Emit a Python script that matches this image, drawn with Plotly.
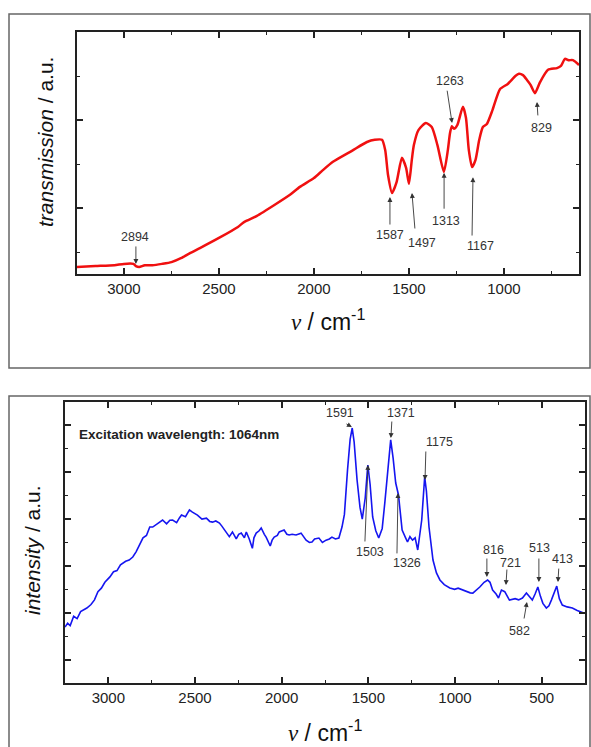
import plotly.graph_objects as go

# ---------------- data ----------------
ir_wavenumber = [3250, 3150, 3050, 3000, 2950, 2937, 2920, 2890, 2850, 2800, 2750, 2700, 2650, 2600,
                 2500, 2400, 2368, 2300, 2200, 2126, 2074, 2000, 1953, 1900, 1800, 1721, 1680, 1642,
                 1625, 1610, 1589, 1565, 1537, 1515, 1500, 1485, 1474, 1450, 1411, 1380, 1350, 1316,
                 1295, 1284, 1274, 1263, 1245, 1216, 1200, 1185, 1168, 1150, 1130, 1111, 1090, 1060,
                 1021, 980, 940, 921, 900, 879, 860, 837, 810, 768, 721, 700, 679, 660, 637, 605]
ir_transmission = [0.16, 0.18, 0.20, 0.23, 0.23, 0.18, 0.16, 0.20, 0.20, 0.23, 0.27, 0.36, 0.48, 0.59,
                   0.82, 1.07, 1.18, 1.32, 1.59, 1.80, 1.98, 2.18, 2.36, 2.55, 2.80, 3.00, 3.05, 3.05,
                   2.82, 2.25, 1.84, 2.09, 2.64, 2.41, 2.05, 2.59, 2.93, 3.27, 3.43, 3.34, 2.93, 2.32,
                   2.82, 3.20, 3.36, 3.30, 3.39, 3.80, 3.55, 2.82, 2.43, 2.59, 3.05, 3.34, 3.41, 3.73,
                   4.20, 4.32, 4.50, 4.55, 4.52, 4.41, 4.30, 4.11, 4.36, 4.64, 4.68, 4.73, 4.89, 4.86, 4.86, 4.75]

raman_wavenumber = [3250, 3235, 3220, 3200, 3180, 3160, 3124, 3100, 3080, 3060, 3040, 3020, 2991, 2970,
                    2950, 2930, 2900, 2880, 2859, 2840, 2820, 2800, 2780, 2761, 2744, 2720, 2700, 2687,
                    2664, 2645, 2629, 2606, 2590, 2578, 2555, 2532, 2515, 2486, 2460, 2434, 2415, 2399,
                    2380, 2359, 2345, 2330, 2302, 2284, 2262, 2248, 2233, 2215, 2204, 2187, 2169, 2160,
                    2147, 2130, 2118, 2100, 2089, 2066, 2055, 2043, 2025, 2014, 1986, 1970, 1957, 1940,
                    1917, 1888, 1870, 1859, 1840, 1825, 1810, 1785, 1765, 1744, 1725, 1710, 1690, 1670,
                    1652, 1638, 1620, 1605, 1593, 1582, 1565, 1548, 1535, 1518, 1503, 1490, 1475, 1457,
                    1440, 1420, 1405, 1388, 1371, 1357, 1342, 1326, 1305, 1285, 1274, 1260, 1245, 1230,
                    1215, 1192, 1175, 1165, 1150, 1127, 1107, 1087, 1062, 1030, 1002, 982, 955, 932,
                    912, 897, 877, 857, 832, 812, 798, 783, 763, 749, 732, 713, 686, 653, 633, 611,
                    588, 573, 554, 538, 522, 507, 493, 473, 458, 444, 428, 413, 398, 381, 353, 323,
                    295, 258]
raman_intensity = [2.39, 2.55, 2.45, 2.85, 2.75, 3.05, 3.20, 3.35, 3.55, 3.90, 4.05, 4.30, 4.53, 4.75,
                   4.80, 5.05, 5.20, 5.25, 5.38, 5.60, 5.90, 6.20, 6.30, 6.66, 6.66, 6.80, 6.90, 6.96,
                   6.80, 6.95, 6.96, 6.85, 7.05, 7.17, 7.10, 7.39, 7.30, 7.17, 7.00, 7.04, 6.90, 6.87,
                   6.92, 6.83, 6.70, 6.53, 6.25, 6.45, 6.15, 6.35, 6.40, 6.20, 6.45, 6.15, 5.75, 6.20,
                   6.40, 6.50, 6.62, 6.35, 6.22, 5.85, 6.10, 6.23, 6.30, 6.45, 6.53, 6.35, 6.32, 6.35,
                   6.32, 6.40, 6.20, 6.10, 6.00, 6.02, 6.15, 6.19, 6.00, 6.10, 6.15, 6.23, 6.15, 6.19,
                   6.66, 7.20, 9.10, 10.40, 10.89, 10.30, 8.67, 7.50, 7.00, 7.90, 9.31, 8.50, 7.09, 6.50,
                   6.19, 6.60, 7.69, 9.20, 10.38, 9.60, 8.54, 8.03, 6.53, 6.20, 6.02, 6.25, 6.10, 6.20,
                   5.68, 6.96, 8.80, 8.20, 6.66, 5.25, 4.70, 4.40, 4.20, 4.06, 4.00, 4.05, 3.97, 3.90,
                   3.85, 3.84, 3.95, 4.10, 4.30, 4.40, 4.30, 3.97, 3.80, 3.63, 3.97, 3.90, 3.54, 3.60,
                   3.55, 3.63, 3.84, 3.70, 3.54, 3.80, 4.10, 3.70, 3.40, 3.20, 3.30, 3.54, 3.90, 4.14,
                   3.60, 3.33, 3.25, 3.20, 3.10, 2.99]

x_tick_values = [3000, 2500, 2000, 1500, 1000, 500]
x_tick_labels = ["3000", "2500", "2000", "1500", "1000", "500"]

# label text, label (x, y), arrow tail (x, y), arrow head (x, y)
ir_labels = [
    ("2894", 2942, 0.84, 2937, 0.66, 2937, 0.23),
    ("1587", 1600, 0.89, 1600, 1.09, 1600, 1.75),
    ("1497", 1431, 0.70, 1468, 1.00, 1484, 1.84),
    ("1313", 1305, 1.20, 1315, 1.45, 1315, 2.30),
    ("1167", 1126, 0.64, 1168, 0.84, 1163, 2.20),
    ("1263", 1284, 4.39, 1300, 4.20, 1273, 3.43),
    ("829", 800, 3.32, 821, 3.57, 826, 3.91),
]
raman_labels = [
    ("1591", 1664, 11.53, 1635, 11.10, 1595, 10.93),
    ("1371", 1312, 11.53, 1364, 11.23, 1370, 10.46),
    ("1175", 1087, 10.29, 1168, 9.95, 1173, 8.67),
    ("1503", 1491, 5.59, 1520, 5.98, 1502, 9.31),
    ("1326", 1277, 5.12, 1335, 5.47, 1329, 8.11),
    ("816", 776, 5.68, 816, 5.38, 816, 4.53),
    ("721", 677, 5.12, 700, 4.91, 706, 4.18),
    ("513", 510, 5.76, 516, 5.38, 516, 4.31),
    ("413", 378, 5.29, 401, 4.95, 406, 4.31),
    ("582", 626, 2.22, 603, 2.69, 585, 3.46),
]

# ---------------- figure ----------------
W, H = 591, 747
FONT = "Liberation Sans, Arial, sans-serif"

fig = go.Figure()
fig.add_trace(go.Scatter(x=ir_wavenumber, y=ir_transmission, mode="lines",
                         line=dict(color="#f01010", width=2.5, shape="spline", smoothing=0.6),
                         xaxis="x", yaxis="y", showlegend=False))
fig.add_trace(go.Scatter(x=raman_wavenumber, y=raman_intensity, mode="lines",
                         line=dict(color="#1515f0", width=1.6),
                         xaxis="x2", yaxis="y2", showlegend=False))


def xaxis_style(rng, domain, anchor):
    return dict(range=rng, domain=domain, anchor=anchor, tickvals=x_tick_values, ticktext=x_tick_labels,
                ticks="inside", ticklen=6, tickwidth=1.5, tickcolor="#222",
                minor=dict(ticks="inside", ticklen=3, tickwidth=1.2, tickcolor="#222", dtick=250, tick0=0),
                showline=True, linecolor="#222", linewidth=2, mirror="ticks",
                showgrid=False, zeroline=False,
                tickfont=dict(family=FONT, size=15, color="#222"))


def yaxis_style(rng, domain, anchor, tick0, minor0):
    return dict(range=rng, domain=domain, anchor=anchor, tick0=tick0, dtick=2,
                ticks="inside", ticklen=6, tickwidth=1.5, tickcolor="#222",
                minor=dict(ticks="inside", ticklen=3, tickwidth=1.2, tickcolor="#222", dtick=1, tick0=minor0),
                showticklabels=False, showline=True, linecolor="#222", linewidth=2, mirror="ticks",
                showgrid=False, zeroline=False)


fig.update_layout(
    width=W, height=H, margin=dict(l=0, r=0, t=0, b=0),
    paper_bgcolor="white", plot_bgcolor="white",
    xaxis=xaxis_style([3247, 605], [77 / W, 579 / W], "y"),
    yaxis=yaxis_style([0, 5.5], [1 - 274 / H, 1 - 32 / H], "x", 1.5, 0.5),
    xaxis2=xaxis_style([3250, 250], [65 / W, 585 / W], "y2"),
    yaxis2=yaxis_style([0, 12], [1 - 683 / H, 1 - 402 / H], "x2", 1, 0),
)

# outer panel frames
fig.add_shape(type="rect", xref="paper", yref="paper", x0=9 / W, x1=590 / W, y0=1 - 368 / H, y1=1 - 14 / H,
              line=dict(color="#666", width=1.5), fillcolor="rgba(0,0,0,0)", layer="below")
fig.add_shape(type="rect", xref="paper", yref="paper", x0=9 / W, x1=590 / W, y0=-0.05, y1=1 - 396 / H,
              line=dict(color="#666", width=1.5), fillcolor="rgba(0,0,0,0)", layer="below")

ann_font = dict(family=FONT, size=12.5, color="#333")


def add_labels(labels, xref, yref):
    for text, lx, ly, tx, ty, hx, hy in labels:
        fig.add_annotation(x=hx, y=hy, ax=tx, ay=ty, xref=xref, yref=yref, axref=xref, ayref=yref,
                           text="", showarrow=True, arrowhead=2, arrowsize=1.1, arrowwidth=0.9,
                           arrowcolor="#333")
        fig.add_annotation(x=lx, y=ly, xref=xref, yref=yref, text=text, showarrow=False, font=ann_font,
                           xanchor="center", yanchor="middle")


add_labels(ir_labels, "x", "y")
add_labels(raman_labels, "x2", "y2")

fig.add_annotation(x=3181, y=10.63, xref="x2", yref="y2", text="<b>Excitation wavelength: 1064nm</b>",
                   showarrow=False, xanchor="left", yanchor="middle",
                   font=dict(family=FONT, size=13.5, color="#222"))

# axis titles
title_font = dict(family=FONT, size=21, color="#111")
nu_font = dict(family=FONT, size=23, color="#111")
fig.add_annotation(x=45 / W, y=1 - 142 / H, xref="paper", yref="paper", text="<i>transmission</i> / a.u.",
                   textangle=-90, showarrow=False, font=title_font, xanchor="center", yanchor="middle")
fig.add_annotation(x=32 / W, y=1 - 550 / H, xref="paper", yref="paper", text="<i>intensity</i> / a.u.",
                   textangle=-90, showarrow=False, font=title_font, xanchor="center", yanchor="middle")
nu_text = "<span style='font-family:Liberation Serif'><i>ν</i></span> / cm<sup>-1</sup>"
fig.add_annotation(x=328 / W, y=1 - 320 / H, xref="paper", yref="paper", text=nu_text,
                   showarrow=False, font=nu_font, xanchor="center", yanchor="middle")
fig.add_annotation(x=325 / W, y=1 - 731 / H, xref="paper", yref="paper", text=nu_text,
                   showarrow=False, font=nu_font, xanchor="center", yanchor="middle")

fig.write_html("out.html", config={"displayModeBar": False},
               post_script="document.body.style.margin='0';document.body.style.overflow='hidden';")
